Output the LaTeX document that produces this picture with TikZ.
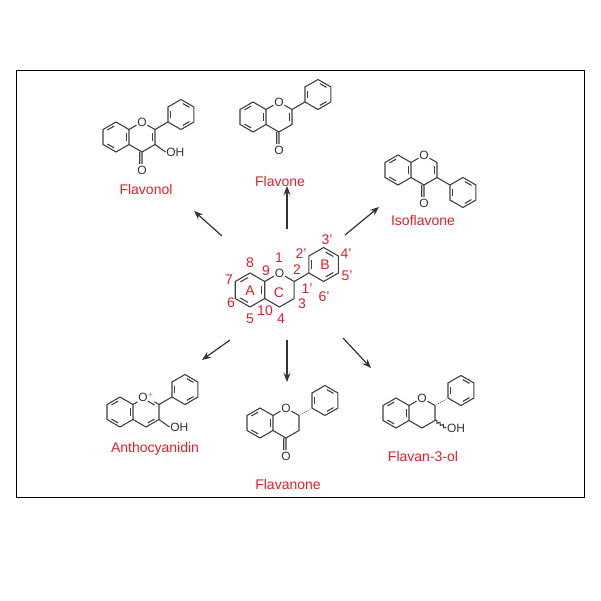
\documentclass[tikz,border=0pt]{standalone}
\usepackage{fontspec}
\setmainfont{Liberation Sans}
\usetikzlibrary{calc,arrows.meta,decorations.pathmorphing}
\definecolor{lab}{RGB}{230,30,40}
\tikzset{bond/.style={line width=1.1pt,draw=black!75},
 atom/.style={inner sep=0.6pt,font=\fontsize{12}{12}\selectfont,text=black!80},
 lbl/.style={font=\fontsize{14}{14}\selectfont,text=lab},
 num/.style={font=\fontsize{14}{14}\selectfont,text=lab,inner sep=0pt},
 arr/.style={line width=1.2pt,draw=black!80,-{Stealth[length=9pt,width=7pt]}}}
\newcommand\dbl[3]{\draw[bond] ($($(#1)!.18!(#2)$)!.2!(#3)$) -- ($($(#1)!.82!(#2)$)!.2!(#3)$);}
\newcommand\skel[1][O]{%
 \coordinate (ca) at (0,0);
 \foreach \n/\a in {p/90,q/30,r/-30,s/-90,t/-150,u/150}{\coordinate (\n) at (\a:1);}
 \coordinate (cc) at (1.732,0);
 \coordinate (c2) at (2.598,.5); \coordinate (c3) at (2.598,-.5); \coordinate (c4) at (1.732,-1);
 \node[atom] (o) at (1.732,1) {#1};
 \draw[bond] (q)--(r)--(s)--(t)--(u)--(p)--(q);
 \dbl{q}{r}{ca}\dbl{s}{t}{ca}\dbl{u}{p}{ca}
 \draw[bond] (q)--(o)--(c2)--(c3)--(c4)--(r);}
\newcommand\phen[1]{%
 \coordinate (cb) at (#1);
 \foreach \n/\a in {b1/90,b2/30,b3/-30,b4/-90,b5/-150,b6/150}{\coordinate (\n) at ($(cb)+(\a:1)$);}
 \draw[bond] (b1)--(b2)--(b3)--(b4)--(b5)--(b6)--cycle;
 \dbl{b1}{b2}{cb}\dbl{b3}{b4}{cb}\dbl{b5}{b6}{cb}}
\newcommand\carbonyl{\draw[bond] (c4)--(1.732,-1.8);\draw[bond] ($(c4)+(-.15,0)$)--(1.582,-1.8);
 \node[atom] (oc) at (1.732,-2.2) {O};}
\newcommand\hashed[2]{\foreach \t in {0.1,0.25,...,0.95}{\draw[line width=0.8pt,black!75] ($(#1)!\t!(#2)!\t*0.14!90:(#2)$) -- ($(#1)!\t!(#2)!\t*0.14!-90:(#2)$);}}
\begin{document}
\begin{tikzpicture}[x=1pt,y=-1pt]
\useasboundingbox (0,0) rectangle (601,601);
\draw[line width=0.8pt] (16,70) rectangle (584,497);
% central
\begin{scope}[shift={(250,290)},scale=17,yscale=-1]
 \skel \draw[bond] (c2)--(3.464,1); \phen{4.330,1.5}
\end{scope}
\foreach \t/\x/\y in {1/279/258,2/297/270,3/302/304,4/281/319,10/265/311,5/250/319,6/231/303,7/229/280,8/250/263,9/266/271,
 2'/301/254,3'/327/240,4'/346/254,5'/347/276,6'/324/297,1'/307/289,A/250/291,C/279/293,B/325/265}
 {\node[num] at (\x,\y) {\t};}
% flavone
\begin{scope}[shift={(253,117)},scale=15,yscale=-1]
 \skel \dbl{c2}{c3}{cc} \carbonyl \draw[bond] (c2)--(3.464,1); \phen{4.330,1.5}
\end{scope}
\node[lbl] (lf) at (280,181) {Flavone};
% flavonol
\begin{scope}[shift={(116,137)},scale=15,yscale=-1]
 \skel \dbl{c2}{c3}{cc} \carbonyl \draw[bond] (c2)--(3.464,1); \phen{4.330,1.5}
 \node[atom,anchor=west] (oh) at (3.3,-1) {OH}; \draw[bond] (c3)--(oh.west);
\end{scope}
\node[lbl] (lfl) at (146,189) {Flavonol};
% isoflavone
\begin{scope}[shift={(398,170)},scale=15,yscale=-1]
 \skel \dbl{c2}{c3}{cc} \carbonyl \draw[bond] (c3)--(3.464,-1); \phen{4.330,-1.5}
\end{scope}
\node[lbl] (li) at (423,220) {Isoflavone};
% anthocyanidin
\begin{scope}[shift={(120,412)},scale=15,yscale=-1]
 \skel[O$^{\scriptscriptstyle +}$] \dbl{c3}{c4}{cc}\dbl{o}{c2}{cc} \draw[bond] (c2)--(3.464,1); \phen{4.330,1.5}
 \node[atom,anchor=west] (oh) at (3.3,-1) {OH}; \draw[bond] (c3)--(oh.west);
\end{scope}
\node[lbl] (la) at (155,449) {Anthocyanidin};
% flavanone
\begin{scope}[shift={(260,423)},scale=15,yscale=-1]
 \skel \carbonyl \hashed{c2}{3.464,1} \phen{4.330,1.5}
\end{scope}
\node[lbl] (lfn) at (288,484) {Flavanone};
% flavan-3-ol
\begin{scope}[shift={(396,413)},scale=15,yscale=-1]
 \skel \hashed{c2}{3.464,1} \phen{4.330,1.5}
 \node[atom,anchor=west] (oh) at (3.35,-1) {OH};
 \draw[bond,decorate,decoration={snake,amplitude=1.2pt,segment length=4pt}] (c3)--(oh.west);
\end{scope}
\node[lbl] (l3) at (423,456) {Flavan-3-ol};
% arrows
\coordinate (s1) at (287,229); \coordinate (e1) at (287,186);
\coordinate (s2) at (222,236); \coordinate (e2) at (194,211);
\coordinate (s3) at (345,235); \coordinate (e3) at (379,207);
\coordinate (s4) at (230,340); \coordinate (e4) at (202,360);
\coordinate (s5) at (287,340); \coordinate (e5) at (287,382);
\coordinate (s6) at (343,338); \coordinate (e6) at (371,368);
\foreach \i in {1,...,6}{\draw[arr] (s\i)--(e\i);}
\end{tikzpicture}
\end{document}
